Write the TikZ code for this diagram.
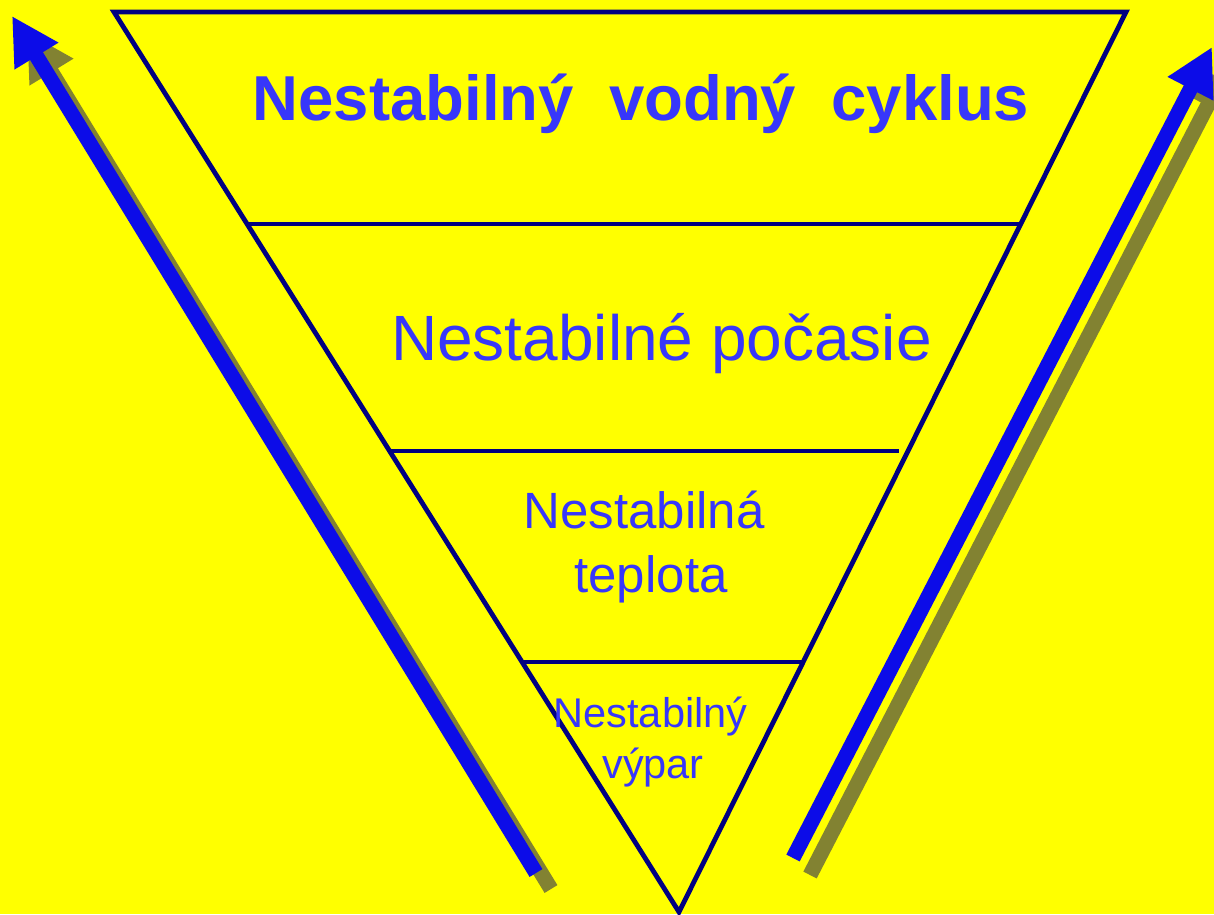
\documentclass[tikz,border=0pt]{standalone}
\usepackage{fontspec}
\setmainfont{Liberation Sans}
\usetikzlibrary{arrows.meta}
\definecolor{bgyellow}{RGB}{255,255,0}
\definecolor{navyline}{RGB}{0,0,128}
\definecolor{txtblue}{RGB}{55,55,250}
\definecolor{arrblue}{RGB}{12,12,232}
\definecolor{shadowolive}{RGB}{130,130,50}
\tikzset{
  frame/.style={draw=navyline, line width=4.8pt, line join=miter},
  bigarrow/.style={draw=arrblue, line width=15pt, -{Triangle[length=47pt,width=48pt]}, arrblue},
  shadowarrow/.style={draw=shadowolive, line width=15pt, -{Triangle[length=47pt,width=48pt]}, shadowolive},
  lbl/.style={text=txtblue, anchor=base, inner sep=0pt},
}
\begin{document}
\begin{tikzpicture}[x=1pt,y=-1pt]
\fill[bgyellow] (0,0) rectangle (1214,914);
\useasboundingbox (0,0) rectangle (1214,914);
% triangle corners
\coordinate (tl) at (114,12);
\coordinate (tr) at (1126,12);
\coordinate (apex) at (679,912);
% divider end points
\coordinate (a1) at (247,224);
\coordinate (b1) at (1021,224);
\coordinate (a2) at (389.6,451);
\coordinate (b2) at (899,451);
\coordinate (a3) at (522,662);
\coordinate (b3) at (803,662);
% arrows
\coordinate (ltail) at (536,873);
\coordinate (ltip) at (12,16);
\coordinate (rtail) at (793,858);
\coordinate (rtip) at (1212,47);
\coordinate (ltails) at (551,889);
\coordinate (ltips) at (27,32);
\coordinate (rtails) at (810,875);
\coordinate (rtips) at (1229,64);
% shadows
\draw[shadowarrow] (ltails) -- (ltips);
\draw[shadowarrow] (rtails) -- (rtips);
\draw[bigarrow] (ltail) -- (ltip);
\draw[bigarrow] (rtail) -- (rtip);
% triangle
\draw[frame] (tl) -- (tr) -- (apex) -- cycle;
\draw[frame] (a1) -- (b1);
\draw[frame] (a2) -- (b2);
\draw[frame] (a3) -- (b3);
% labels
\node[lbl, font=\fontsize{63.5}{76}\selectfont\bfseries] (t1) at (641,120) {Nestabilný\ \ vodný\ \ cyklus};
\node[lbl, font=\fontsize{64}{77}\selectfont] (t2) at (661.5,360) {Nestabilné počasie};
\node[lbl, font=\fontsize{51}{61}\selectfont] (t3a) at (644,528) {Nestabilná};
\node[lbl, font=\fontsize{51}{61}\selectfont] (t3b) at (651,592) {teplota};
\node[lbl, font=\fontsize{41.5}{50}\selectfont] (t4a) at (650.5,727) {Nestabilný};
\node[lbl, font=\fontsize{41.5}{50}\selectfont] (t4b) at (653,778) {výpar};
\end{tikzpicture}
\end{document}
